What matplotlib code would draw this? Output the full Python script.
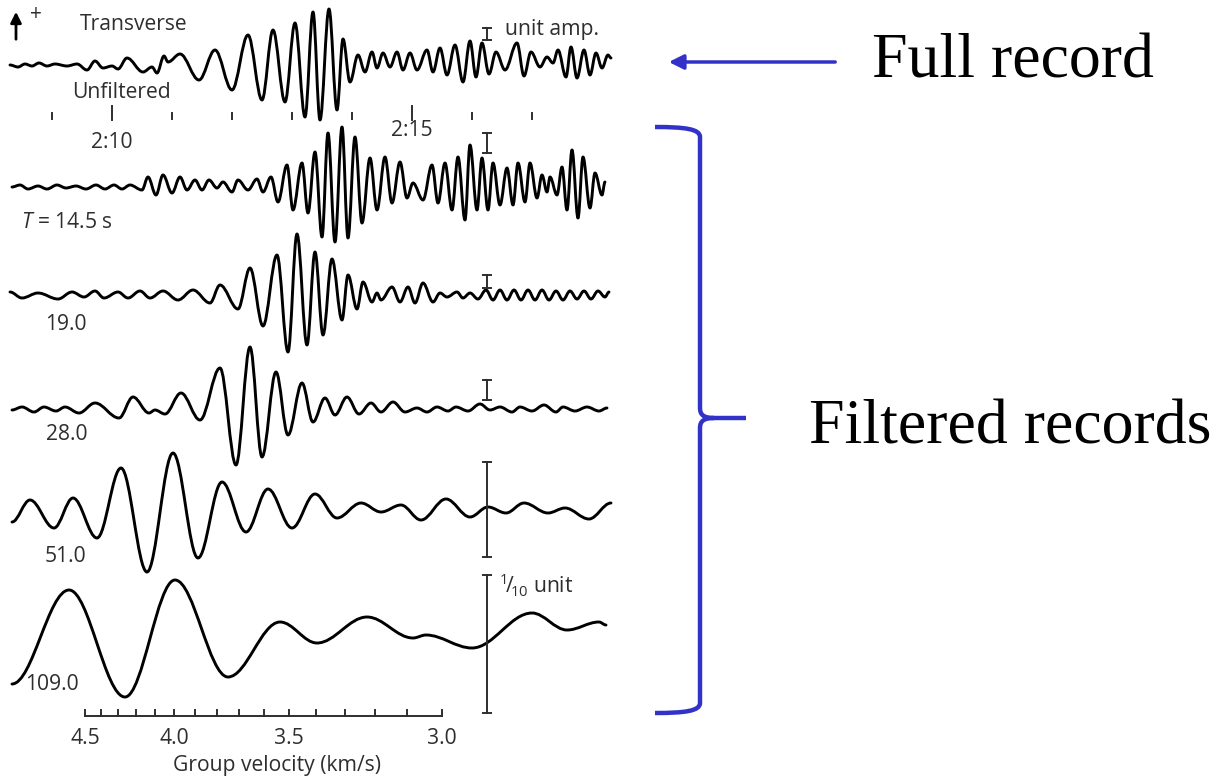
import matplotlib.pyplot as plt
from matplotlib.path import Path
from matplotlib.patches import PathPatch

plt.rcParams['font.family'] = ['Open Sans', 'DejaVu Sans']
plt.rcParams['mathtext.fontset'] = 'custom'
plt.rcParams['mathtext.rm'] = 'Open Sans'
plt.rcParams['mathtext.it'] = 'Open Sans:italic'

# peaks and troughs of each record: time (s after 2:10:00) and amplitude (up +)
unf_t = [-102, -94, -87, -80, -73, -65, -57, -45, -35, -25, -17, -9, 0, 6, 15, 31, 40, 45, 52, 56,
         68, 87, 103, 120, 136, 150, 161, 173, 183, 193, 201, 208, 217, 225, 231, 238, 246, 253, 260, 265,
         271, 278, 285, 291, 298, 305, 315, 321, 328, 335, 343, 351, 358, 364, 370, 377, 384, 393, 405, 412,
         419, 428, 435, 441, 446, 454, 459, 465, 472, 478, 484, 490, 496, 499]
unf_a = [0, -2, 1, -1, 2, -1, 1, -1, 1, -5, 4, -3, -1, -4, 7, -7, -2, -8, 9, 3,
         11, -15, 15, -25, 30, -35, 35, -37, 42, -52, 53, -55, 56, -45, 26, -17, 10, -7, 13, -3,
         12, -2, 13, -5, 12, -5, 15, -7, 17, -10, 20, -17, 24, -12, 22, -9, 13, -5, 22, -11,
         13, -2, 8, 2, 15, -12, 18, -13, 15, -10, 12, -3, 10, 7]

t145_t = [-100, -92, -84, -74, -65, -55, -46, -36, -26, -16, -7, 2, 10, 18, 30, 36, 44, 51, 60, 68,
          75, 83, 90, 97, 105, 111, 120, 126, 136, 145, 151, 159, 166, 175, 181, 190, 196, 203, 210, 216,
          223, 230, 236, 243, 250, 258, 265, 273, 280, 288, 295, 301, 311, 320, 326, 333, 340, 346, 353, 358,
          365, 370, 376, 381, 388, 395, 401, 406, 413, 418, 425, 430, 435, 438, 445, 450, 455, 460, 466, 471,
          478, 483, 490, 493]
t145_a = [0, 2, -2, 1, -2, 2, -1, 1, -2, 2, -2, 2, -2, 2, -3, 10, -8, 12, -6, 10,
          -3, 7, -3, 7, -1, 5, -5, 7, -3, 8, -5, 10, -15, 22, -23, 24, -26, 35, -50, 54,
          -55, 60, -51, 50, -36, 29, -23, 30, -16, 25, -11, 4, -13, 22, -16, 24, -23, 30, -33, 42,
          -23, 29, -23, 24, -18, 19, -18, 24, -15, 24, -11, 12, -5, 10, -8, 20, -23, 37, -31, 30,
          -21, 14, -8, 5]

t190_t = [-102, -90, -74, -54, -40, -28, -17, -8, 6, 16, 28, 38, 51, 66, 81, 98, 108, 126, 138, 151,
          165, 176, 185, 195, 203, 211, 220, 230, 236, 245, 251, 260, 265, 269, 280, 288, 296, 303, 311, 321,
          328, 335, 345, 351, 358, 366, 374, 381, 388, 395, 402, 409, 416, 423, 430, 437, 444, 451, 458, 465,
          472, 479, 486, 493, 497]
t190_a = [3, -3, 2, -4, 3, -2, 4, -3, 3, -3, 4, -3, 4, -5, 5, -8, 10, -14, 27, -31,
          40, -57, 61, -50, 43, -40, 36, -25, 20, -14, 13, -7, 2, -5, 8, -7, 8, -8, 12, -7,
          2, -2, 3, -3, 2, -4, 5, -5, 5, -5, 5, -5, 5, -5, 5, -5, 4, -5, 4, -4,
          4, -4, 4, -2, 3]

t280_t = [-100, -90, -78, -68, -56, -47, -33, -17, 7, 21, 37, 43, 53, 69, 88, 108, 124, 138, 150, 164,
          176, 190, 201, 213, 223, 235, 247, 259, 269, 281, 293, 305, 315, 325, 336, 344, 356, 368, 378, 388,
          400, 408, 420, 432, 444, 451, 463, 475, 487, 495]
t280_a = [0, 3, -2, 3, -1, 3, -3, 7, -8, 13, -3, 0, -4, 17, -10, 42, -55, 63, -47, 38,
          -25, 27, -12, 12, -5, 13, -4, 7, -2, 8, -2, 2, -2, 3, -1, 3, -1, 6, 0, 3,
          -2, 3, -1, 5, -2, 3, -1, 3, -1, 2]

t510_t = [-100, -82, -58, -39, -15, 9, 35, 61, 86, 110, 134, 156, 180, 203, 225, 249, 269, 289, 309, 334,
          358, 376, 394, 412, 436, 453, 477, 499]
t510_a = [-12, 10, -18, 12, -28, 42, -62, 57, -48, 28, -22, 21, -18, 16, -8, 7, -2, 5, -10, 11,
          -7, 3, -3, 7, -3, 2, -9, 7]

t1090_t = [-100, -43, 13, 63, 116, 168, 205, 255, 301, 314, 360, 420, 455, 487, 494]
t1090_a = [-44, 50, -57, 60, -37, 18, -3, 23, 2, 5, -8, 27, 10, 18, 15]

trace_t = [unf_t, t145_t, t190_t, t280_t, t510_t, t1090_t]
trace_a = [unf_a, t145_a, t190_a, t280_a, t510_a, t1090_a]
period_labels = ['', '$T$ = 14.5 s', '19.0', '28.0', '51.0', '109.0']

# amplitude scale bars (top, bottom) per record
unit_bars = [(28, 40), (133, 153), (275, 288), (380, 400), (462, 557), (575, 713)]

# minute marks (s after 2:10) and group velocity scale
minute_ticks = [-60, 0, 60, 120, 180, 240, 300, 360, 420]
minute_labels = {0: '2:10', 300: '2:15'}
vel_ticks = [4.5, 4.4, 4.3, 4.2, 4.1, 4.0, 3.9, 3.8, 3.7, 3.6, 3.5, 3.4, 3.3, 3.2, 3.1, 3.0]
vel_labels = [4.5, 4.0, 3.5, 3.0]
DIST_KM = 3213
ORIGIN_S = -741

BLUE = '#3232c8'
INK = '#2e2e2e'
FS = 15.2


def wiggle(ax, t, a, base, k=0.36, **kwargs):
    """smooth trace through the peaks/troughs using cubic bezier pieces"""
    verts = [(t[0], base - a[0])]
    codes = [Path.MOVETO]
    for i in range(1, len(t)):
        dt = t[i] - t[i - 1]
        y0, y1 = base - a[i - 1], base - a[i]
        verts += [(t[i - 1] + k * dt, y0), (t[i] - k * dt, y1), (t[i], y1)]
        codes += [Path.CURVE4] * 3
    ax.add_patch(PathPatch(Path(verts, codes), fill=False, **kwargs))


fig = plt.figure(figsize=(12.16, 7.77), dpi=100)
ax = fig.add_axes([0, 0, 1, 1])
ax.set_xlim(-112, 1104)
ax.set_ylim(777, 0)
ax.axis('off')
ov = fig.add_axes([0, 0, 1, 1])
ov.set_xlim(0, 1216)
ov.set_ylim(777, 0)
ov.axis('off')
ov.patch.set_alpha(0)

baselines = [65, 187, 295, 410, 510, 640]
for t, a, base in zip(trace_t, trace_a, baselines):
    wiggle(ax, t, a, base, lw=2.1, edgecolor='black', capstyle='round', joinstyle='round')

bar_s = 375
for top, bot in unit_bars:
    ax.plot([bar_s, bar_s], [top, bot], color=INK, lw=1.4)
    ax.plot([bar_s - 4, bar_s + 4], [top, top], color=INK, lw=1.4)
    ax.plot([bar_s - 4, bar_s + 4], [bot, bot], color=INK, lw=1.4)

# minute marks under the unfiltered record
for s in minute_ticks:
    if s in minute_labels:
        ax.plot([s, s], [106, 120], color=INK, lw=1.4)
    else:
        ax.plot([s, s], [113, 119], color=INK, lw=1.4)
ax.text(0, 143, minute_labels[0], ha='center', va='center', fontsize=FS, color=INK)
ax.text(300, 131, minute_labels[300], ha='center', va='center', fontsize=FS, color=INK)

# group velocity axis
vel_pos = [DIST_KM / v + ORIGIN_S for v in vel_ticks]
ax.plot([vel_pos[0], vel_pos[-1]], [716, 716], color=INK, lw=1.4)
for v, s in zip(vel_ticks, vel_pos):
    ax.plot([s, s], [716, 710], color=INK, lw=1.4)
for v in vel_labels:
    ax.text(DIST_KM / v + ORIGIN_S, 739, f'{v:.1f}', ha='center', va='center', fontsize=FS, color=INK)
ov.text(277, 765, 'Group velocity (km/s)', ha='center', va='center', fontsize=FS, color=INK)

# left panel labels
ov.annotate('', xy=(16, 9), xytext=(16, 42),
            arrowprops=dict(arrowstyle='-|>', color='black', lw=2.0, mutation_scale=16))
ov.text(36, 14, '+', ha='center', va='center', fontsize=15, color=INK)
ov.text(134, 25, 'Transverse', ha='center', va='center', fontsize=FS, color=INK)
ov.text(121, 93, 'Unfiltered', ha='center', va='center', fontsize=FS, color=INK)
ov.text(505, 30, 'unit amp.', ha='left', va='center', fontsize=FS, color=INK)
label_pos = [None, (67, 222), (66, 325), (67, 435), (66, 557), (52, 684)]
for lab, pos in zip(period_labels, label_pos):
    if pos:
        ov.text(pos[0], pos[1], lab, ha='center', va='center', fontsize=FS, color=INK)
ov.text(499, 585, r'$^{1}\!/\!_{10}$ unit', ha='left', va='center', fontsize=FS, color=INK)

# right side notes
ov.annotate('', xy=(666, 62), xytext=(838, 62),
            arrowprops=dict(arrowstyle='-|>', color=BLUE, lw=2.5, mutation_scale=22))
ov.text(1013, 62, 'Full record', ha='center', va='center', fontsize=46,
        family='Liberation Serif', color='black')
ov.text(1010, 428, 'Filtered records', ha='center', va='center', fontsize=46,
        family='Liberation Serif', color='black')

brace = Path([(655, 127), (685, 127), (700, 129), (700, 137),
              (700, 408),
              (700, 415), (704, 418), (714, 418),
              (746, 418),
              (714, 418),
              (704, 418), (700, 421), (700, 428),
              (700, 703),
              (700, 711), (685, 713), (655, 713)],
             [Path.MOVETO, Path.CURVE4, Path.CURVE4, Path.CURVE4,
              Path.LINETO,
              Path.CURVE4, Path.CURVE4, Path.CURVE4,
              Path.LINETO,
              Path.MOVETO,
              Path.CURVE4, Path.CURVE4, Path.CURVE4,
              Path.LINETO,
              Path.CURVE4, Path.CURVE4, Path.CURVE4])
ov.add_patch(PathPatch(brace, fill=False, edgecolor=BLUE, lw=3.2, capstyle='butt'))

fig.savefig('out.png', dpi=100)
